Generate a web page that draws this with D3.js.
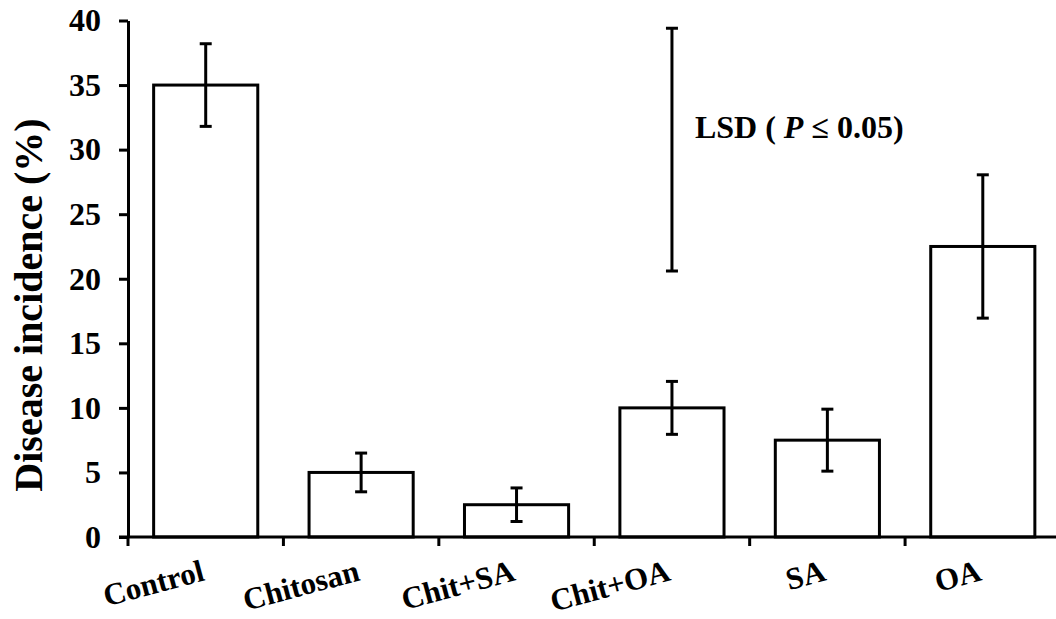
<!DOCTYPE html>
<html>
<head>
    <title>Disease incidence</title>
    <script src="https://d3js.org/d3.v7.min.js"></script>
    <style>
        body { margin: 0; background: #fff; }
        text { font-family: "Liberation Serif", "Times New Roman", serif; font-weight: bold; }
    </style>
</head>
<body>
    <svg id="chart" width="1056" height="619"></svg>

    <script>
        // data
        const treatments = ["Control", "Chitosan", "Chit+SA", "Chit+OA", "SA", "OA"];
        const incidence = [35, 5, 2.5, 10, 7.5, 22.5];
        const errors = [3.2, 1.5, 1.3, 2.05, 2.4, 5.55];
        const yTicks = [0, 5, 10, 15, 20, 25, 30, 35, 40];
        const lsdRange = [20.6, 39.4];
        const lsdAt = "Chit+OA";

        const svg = d3.select("svg#chart");
        const plot = { left: 128, right: 1060.5, top: 20.5, bottom: 537 };

        const x = d3.scaleBand().domain(treatments).range([plot.left, plot.right])
            .paddingInner(0.33).paddingOuter(0.165);
        const y = d3.scaleLinear().domain([0, 40]).range([plot.bottom, plot.top]);

        const data = treatments.map((t, i) => ({ name: t, value: incidence[i], err: errors[i] }));

        // bars
        svg.selectAll(".bar")
            .data(data)
            .join("rect")
            .attr("class", "bar")
            .attr("x", d => x(d.name))
            .attr("y", d => y(d.value))
            .attr("width", x.bandwidth())
            .attr("height", d => y(0) - y(d.value))
            .attr("fill", "white")
            .attr("stroke", "black")
            .attr("stroke-width", 3);

        // error bars
        const cx = d => x(d.name) + x.bandwidth() / 2;
        const eb = svg.selectAll(".err").data(data).join("g").attr("class", "err")
            .attr("stroke", "black").attr("stroke-width", 3);
        eb.append("line")
            .attr("x1", cx).attr("x2", cx)
            .attr("y1", d => y(d.value + d.err)).attr("y2", d => y(d.value - d.err));
        eb.append("line")
            .attr("x1", d => cx(d) - 6).attr("x2", d => cx(d) + 6)
            .attr("y1", d => y(d.value + d.err)).attr("y2", d => y(d.value + d.err));
        eb.append("line")
            .attr("x1", d => cx(d) - 6).attr("x2", d => cx(d) + 6)
            .attr("y1", d => y(d.value - d.err)).attr("y2", d => y(d.value - d.err));

        // axes
        const yAxis = svg.append("g")
            .attr("transform", "translate(" + plot.left + ",0)")
            .call(d3.axisLeft(y).tickValues(yTicks).tickSize(9).tickSizeOuter(0).tickPadding(18));
        yAxis.selectAll("text").style("font-size", "32px").attr("fill", "black");
        yAxis.selectAll("path.domain").attr("stroke-width", 3);
        yAxis.selectAll(".tick line").attr("stroke-width", 3);

        const step = x.step();
        const xAxis = svg.append("g")
            .attr("transform", "translate(0," + plot.bottom + ")");
        xAxis.append("line")
            .attr("x1", plot.left - 9).attr("x2", plot.right)
            .attr("stroke", "black").attr("stroke-width", 3);
        xAxis.selectAll(".xtick")
            .data(treatments)
            .join("line")
            .attr("class", "xtick")
            .attr("x1", d => x(d) - step * x.paddingInner() / 2)
            .attr("x2", d => x(d) - step * x.paddingInner() / 2)
            .attr("y1", 0).attr("y2", 9)
            .attr("stroke", "black").attr("stroke-width", 3);
        xAxis.selectAll(".xlabel")
            .data(treatments)
            .join("text")
            .attr("class", "xlabel")
            .attr("text-anchor", "end")
            .attr("transform", d => "translate(" + (x(d) + x.bandwidth() / 2) + ",43) rotate(-15)")
            .style("font-size", "31px")
            .text(d => d);

        // y label
        svg.append("text")
            .attr("transform", "translate(42,305) rotate(-90)")
            .attr("text-anchor", "middle")
            .style("font-size", "40px")
            .text("Disease incidence (%)");

        // LSD bar
        const lx = x(lsdAt) + x.bandwidth() / 2;
        const lsd = svg.append("g").attr("stroke", "black").attr("stroke-width", 3);
        lsd.append("line").attr("x1", lx).attr("x2", lx)
            .attr("y1", y(lsdRange[0])).attr("y2", y(lsdRange[1]));
        lsdRange.forEach(v => {
            lsd.append("line").attr("x1", lx - 6).attr("x2", lx + 6)
                .attr("y1", y(v)).attr("y2", y(v));
        });
        const lt = svg.append("text")
            .attr("x", lx + 23)
            .attr("y", y(30) - 12)
            .style("font-size", "32px");
        lt.append("tspan").text("LSD ( ");
        lt.append("tspan").style("font-style", "italic").text("P");
        lt.append("tspan").text(" \u2264 0.05)");
    </script>
</body>
</html>
